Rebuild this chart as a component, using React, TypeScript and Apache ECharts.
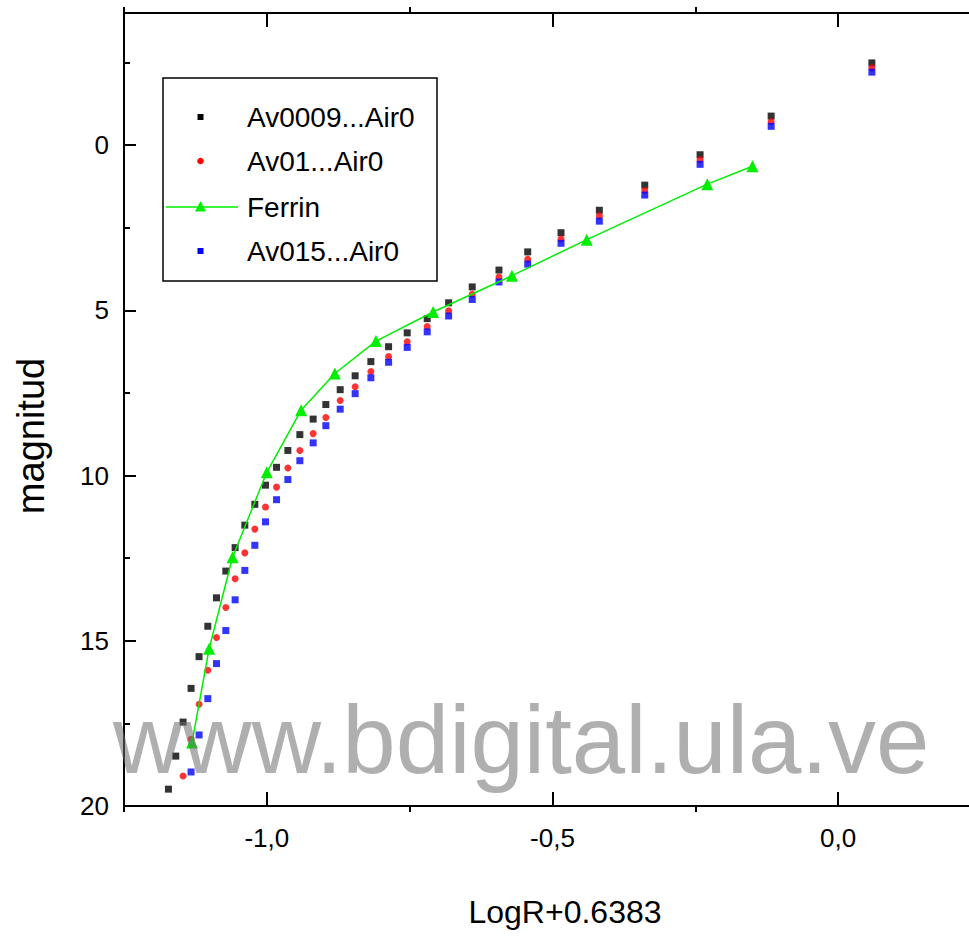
import React, { useEffect, useRef } from 'react';
import * as echarts from 'echarts';

const FONT = '"Liberation Sans", Arial, Helvetica, sans-serif';

// Shared x grid (LogR+0.6383) of the computed series
const xGrid = [
  -1.1722, -1.1594, -1.1466, -1.1326, -1.1186, -1.1033, -1.0881, -1.0718, -1.0555, -1.0385,
  -1.021, -1.0023, -0.983, -0.9632, -0.9422, -0.9189, -0.8967, -0.8716, -0.8454, -0.8179,
  -0.7869, -0.7543, -0.7193, -0.6818, -0.6405, -0.5937, -0.5434, -0.4851, -0.418, -0.3385,
  -0.2417, -0.1173, 0.059,
];

// Av0009...Air0 (starts at xGrid[0])
const av0009Y = [
  19.49, 18.49, 17.46, 16.44, 15.48, 14.56, 13.7, 12.89, 12.18, 11.5,
  10.87, 10.29, 9.75, 9.24, 8.76, 8.29, 7.85, 7.4, 6.98, 6.55,
  6.1, 5.68, 5.25, 4.77, 4.29, 3.78, 3.23, 2.65, 1.97, 1.21,
  0.29, -0.88, -2.49,
];

// Av01...Air0 (starts at xGrid[2])
const av01Start = 2;
const av01Y = [
  19.09, 17.98, 16.92, 15.89, 14.9, 13.99, 13.12, 12.34, 11.62, 10.95,
  10.35, 9.77, 9.24, 8.73, 8.24, 7.73, 7.31, 6.85, 6.4, 5.95,
  5.49, 5.01, 4.51, 3.99, 3.45, 2.84, 2.14, 1.37, 0.44, -0.71,
  -2.34,
];

// Av015...Air0 (starts at xGrid[3])
const av015Start = 3;
const av015Y = [
  18.97, 17.85, 16.75, 15.69, 14.69, 13.76, 12.87, 12.11, 11.4, 10.73,
  10.12, 9.55, 9.01, 8.49, 7.99, 7.52, 7.04, 6.57, 6.12, 5.65,
  5.17, 4.67, 4.14, 3.6, 2.97, 2.3, 1.51, 0.58, -0.57, -2.21,
];

// Ferrin
const ferrinX = [-1.131, -1.101, -1.06, -1.0, -0.94, -0.881, -0.809, -0.709, -0.571, -0.44, -0.229, -0.15];
const ferrinY = [18.08, 15.24, 12.47, 9.9, 8.02, 6.91, 5.93, 5.05, 3.95, 2.86, 1.18, 0.64];

// Axis ticks
const xMajor = [-1.0, -0.5, 0.0];
const xMinor = [-1.25, -0.75, -0.25, 0.25];
const yMajor = [0, 5, 10, 15, 20];
const yMinor = [-2.5, 2.5, 7.5, 12.5, 17.5];

const legendNames = ['Av0009...Air0', 'Av01...Air0', 'Ferrin', 'Av015...Air0'];

export default function App() {
  const ref = useRef<HTMLDivElement>(null);

  useEffect(() => {
    if (!ref.current) return;
    const chart = echarts.init(ref.current, null, { renderer: 'svg' });

    const pts = (ys: number[], start: number) => ys.map((y, i) => [xGrid[start + i], y]);

    const X_MIN = -1.25;
    const X_MAX = 0.25;
    const Y_MIN = -4;
    const Y_MAX = 20;
    const black = '#000';

    const baseX = {
      type: 'value',
      min: X_MIN,
      max: X_MAX,
      splitLine: { show: false },
      gridIndex: 0,
    };
    const baseY = {
      type: 'value',
      min: Y_MIN,
      max: Y_MAX,
      inverse: true,
      splitLine: { show: false },
      gridIndex: 0,
    };

    const lx = 163, ly = 78;
    const legendRows = [117, 161, 207, 251];

    const option: any = {
      animation: false,
      backgroundColor: '#fff',
      grid: { left: 124, top: 13, width: 857, height: 793, containLabel: false },
      xAxis: [
        {
          ...baseX,
          position: 'bottom',
          axisLine: { show: true, onZero: false, lineStyle: { color: black, width: 2 } },
          axisTick: { show: true, inside: true, length: 14, customValues: xMajor, lineStyle: { color: black, width: 2 } },
          axisLabel: {
            show: true,
            customValues: xMajor,
            margin: 19,
            fontSize: 26,
            fontFamily: FONT,
            color: black,
            formatter: (v: number) => v.toFixed(1).replace('.', ','),
          },
          name: 'LogR+0.6383',
          nameLocation: 'middle',
          nameGap: 90,
          nameTextStyle: { fontSize: 32, fontFamily: FONT, color: black, padding: [0, 0, 0, 25] },
        },
        {
          ...baseX,
          position: 'bottom',
          axisLine: { show: false, onZero: false },
          axisTick: { show: true, inside: false, length: 6, customValues: xMinor, lineStyle: { color: black, width: 2 } },
          axisLabel: { show: false },
        },
        {
          ...baseX,
          position: 'top',
          axisLine: { show: true, onZero: false, lineStyle: { color: black, width: 2 } },
          axisTick: { show: true, inside: true, length: 14, customValues: xMajor, lineStyle: { color: black, width: 2 } },
          axisLabel: { show: false },
        },
        {
          ...baseX,
          position: 'top',
          axisLine: { show: false, onZero: false },
          axisTick: { show: true, inside: false, length: 6, customValues: xMinor, lineStyle: { color: black, width: 2 } },
          axisLabel: { show: false },
        },
      ],
      yAxis: [
        {
          ...baseY,
          position: 'left',
          axisLine: { show: true, onZero: false, lineStyle: { color: black, width: 2 } },
          axisTick: { show: true, inside: true, length: 12, customValues: yMajor, lineStyle: { color: black, width: 2 } },
          axisLabel: {
            show: true,
            customValues: yMajor,
            margin: 15,
            fontSize: 26,
            fontFamily: FONT,
            color: black,
          },
          name: 'magnitud',
          nameLocation: 'middle',
          nameGap: 74,
          nameRotate: 90,
          nameTextStyle: { fontSize: 38, fontFamily: FONT, color: black, padding: [0, 53, 0, 0] },
        },
        {
          ...baseY,
          position: 'left',
          axisLine: { show: false, onZero: false },
          axisTick: { show: true, inside: true, length: 6, customValues: yMinor, lineStyle: { color: black, width: 2 } },
          axisLabel: { show: false },
        },
      ],
      series: [
        {
          name: legendNames[0],
          type: 'scatter',
          xAxisIndex: 0,
          yAxisIndex: 0,
          symbol: 'rect',
          symbolSize: 7,
          itemStyle: { color: '#000000' },
          data: pts(av0009Y, 0),
        },
        {
          name: legendNames[1],
          type: 'scatter',
          xAxisIndex: 0,
          yAxisIndex: 0,
          symbol: 'circle',
          symbolSize: 7,
          itemStyle: { color: '#ff0000' },
          data: pts(av01Y, av01Start),
        },
        {
          name: legendNames[2],
          type: 'line',
          xAxisIndex: 0,
          yAxisIndex: 0,
          symbol: 'triangle',
          symbolSize: 12,
          showAllSymbol: true,
          lineStyle: { color: '#00ee00', width: 1.5 },
          itemStyle: { color: '#00ee00' },
          data: ferrinX.map((x, i) => [x, ferrinY[i]]),
        },
        {
          name: legendNames[3],
          type: 'scatter',
          xAxisIndex: 0,
          yAxisIndex: 0,
          symbol: 'rect',
          symbolSize: 7,
          itemStyle: { color: '#0000ff' },
          data: pts(av015Y, av015Start),
        },
      ],
      graphic: [
        {
          type: 'rect',
          shape: { x: lx, y: ly, width: 274, height: 203 },
          style: { fill: '#fff', stroke: '#000', lineWidth: 1.5 },
          z: 50,
        },
        {
          type: 'rect',
          shape: { x: 197.5, y: legendRows[0] - 3, width: 6, height: 6 },
          style: { fill: '#000' },
          z: 51,
        },
        {
          type: 'circle',
          shape: { cx: 200.5, cy: legendRows[1], r: 3.3 },
          style: { fill: '#ff0000' },
          z: 51,
        },
        {
          type: 'line',
          shape: { x1: 166, y1: legendRows[2], x2: 238, y2: legendRows[2] },
          style: { stroke: '#00ee00', lineWidth: 1.5 },
          z: 51,
        },
        {
          type: 'polygon',
          shape: { points: [[200.5, legendRows[2] - 6], [195, legendRows[2] + 4.5], [206, legendRows[2] + 4.5]] },
          style: { fill: '#00ee00' },
          z: 52,
        },
        {
          type: 'rect',
          shape: { x: 197.5, y: legendRows[3] - 3, width: 6, height: 6 },
          style: { fill: '#0000ff' },
          z: 51,
        },
        ...legendNames.map((n, i) => ({
          type: 'text',
          x: 247,
          y: legendRows[i],
          style: { text: n, fontSize: 28, fontFamily: FONT, fill: '#000', verticalAlign: 'middle', align: 'left' },
          z: 51,
        })),
        {
          type: 'text',
          x: 113,
          y: 739,
          style: {
            text: 'www.bdigital.ula.ve',
            fontSize: 96,
            fontFamily: FONT,
            fill: 'rgba(110,110,110,0.55)',
            verticalAlign: 'middle',
            align: 'left',
          },
          z: 100,
        },
      ],
    };

    chart.setOption(option);
    return () => chart.dispose();
  }, []);

  return (
    <div style={{ position: 'absolute', left: 0, top: 0, width: 969, height: 936, overflow: 'hidden', background: '#fff' }}>
      <div ref={ref} style={{ width: 1000, height: 936 }} />
    </div>
  );
}
